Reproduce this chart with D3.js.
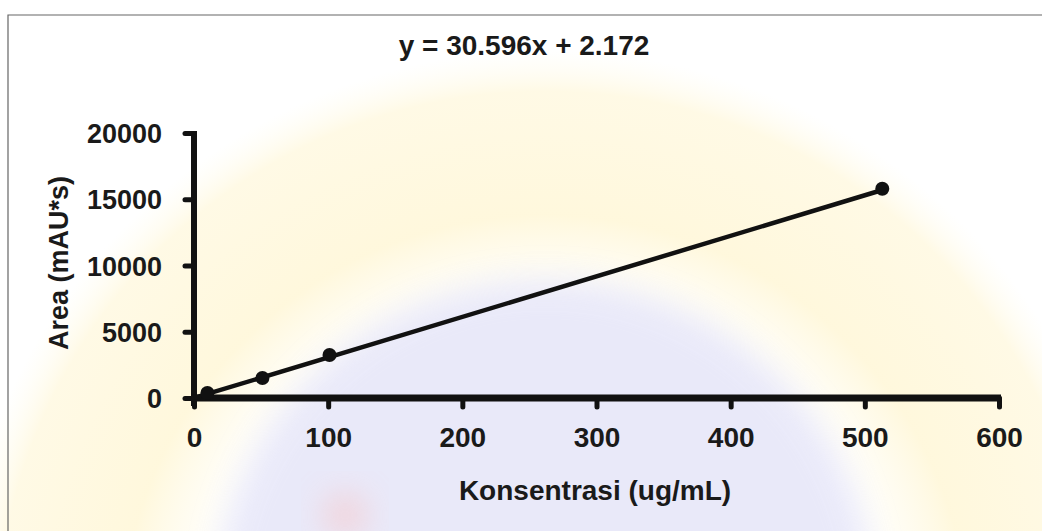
<!DOCTYPE html>
<html>
<head>
<meta charset="utf-8">
<script src="https://cdn.jsdelivr.net/npm/d3@7"></script>
<style>
  body { margin: 0; background: #fff; }
  svg { display: block; }
  text { font-family: "Liberation Sans", Arial, sans-serif; font-weight: bold; fill: #1a1a1a; }
</style>
</head>
<body>
<div id="chart"></div>
<script>
// calibration data
const konsentrasi = [10, 51, 101, 513];
const area = [377, 1509, 3245, 15789];
const xTicks = [0, 100, 200, 300, 400, 500, 600];
const yTicks = [0, 5000, 10000, 15000, 20000];
const slope = 30.596;
const intercept = 2.172;

const W = 1042, H = 531;
const svg = d3.select("#chart").append("svg")
  .attr("width", W)
  .attr("height", H);

// faint watermark behind the plot
const defs = svg.append("defs");
defs.append("filter").attr("id", "blur")
  .attr("x", "-50%").attr("y", "-50%").attr("width", "200%").attr("height", "200%")
  .append("feGaussianBlur").attr("stdDeviation", 16);
const ring = defs.append("radialGradient").attr("id", "ring")
  .attr("cx", 0.5).attr("cy", 0.5).attr("r", 0.5);
ring.append("stop").attr("offset", "0.55").attr("stop-color", "#fffbe8").attr("stop-opacity", 0);
ring.append("stop").attr("offset", "0.72").attr("stop-color", "#fff6d4").attr("stop-opacity", 0.8);
ring.append("stop").attr("offset", "0.93").attr("stop-color", "#fff6d4").attr("stop-opacity", 0.6);
ring.append("stop").attr("offset", "1").attr("stop-color", "#fffbe8").attr("stop-opacity", 0);

const wm = svg.append("g");
wm.append("circle").attr("cx", 545).attr("cy", 640).attr("r", 590).attr("fill", "url(#ring)");
wm.append("circle").attr("cx", 545).attr("cy", 610).attr("r", 330)
  .attr("fill", "#e4e4f8").attr("opacity", 0.8).attr("filter", "url(#blur)");
wm.append("ellipse").attr("cx", 345).attr("cy", 515).attr("rx", 22).attr("ry", 22)
  .attr("fill", "#f8c4c4").attr("opacity", 0.6).attr("filter", "url(#blur)");

// frame
svg.append("path")
  .attr("d", `M8,${H} V15 H${W}`)
  .attr("fill", "none")
  .attr("stroke", "#666")
  .attr("stroke-width", 1.2);

const x = d3.scaleLinear().domain([0, 600]).range([194, 999]);
const y = d3.scaleLinear().domain([0, 20000]).range([398, 133]);

// y axis
const yAxis = svg.append("g").attr("transform", `translate(${x(0)},0)`)
  .call(d3.axisLeft(y).tickValues(yTicks).tickSize(9).tickPadding(23).tickFormat(d3.format("d")));
yAxis.select(".domain").remove();
yAxis.append("line")
  .attr("x1", 0).attr("x2", 0)
  .attr("y1", y(20000) - 2).attr("y2", y(0) + 8)
  .attr("stroke", "#111").attr("stroke-width", 6);
yAxis.selectAll(".tick line").attr("stroke", "#111").attr("stroke-width", 5).attr("stroke-linecap", "round");
yAxis.selectAll(".tick text").style("font-size", "27px").attr("fill", "#1a1a1a").attr("dy", "0.36em");

// x axis
const xAxis = svg.append("g").attr("transform", `translate(0,${y(0)})`)
  .call(d3.axisBottom(x).tickValues(xTicks).tickSize(9).tickPadding(20).tickFormat(d3.format("d")));
xAxis.select(".domain").remove();
xAxis.append("line")
  .attr("x1", x(0) - 3).attr("x2", x(600) + 2)
  .attr("y1", 0).attr("y2", 0)
  .attr("stroke", "#111").attr("stroke-width", 7);
xAxis.selectAll(".tick line").attr("stroke", "#111").attr("stroke-width", 5).attr("stroke-linecap", "round");
xAxis.selectAll(".tick text").style("font-size", "28px").attr("fill", "#1a1a1a").attr("dy", "0.71em");

// trend line from the fitted equation
const line = d3.line().x(d => x(d)).y(d => y(slope * d + intercept));
svg.append("path")
  .datum([0, d3.max(konsentrasi)])
  .attr("d", line)
  .attr("fill", "none")
  .attr("stroke", "#111")
  .attr("stroke-width", 4.5);

// data points
svg.selectAll("circle.pt")
  .data(konsentrasi)
  .enter()
  .append("circle")
  .attr("class", "pt")
  .attr("cx", d => x(d))
  .attr("cy", (d, i) => y(area[i]))
  .attr("r", 7)
  .attr("fill", "#111");

// titles
svg.append("text")
  .attr("x", 524).attr("y", 55)
  .attr("text-anchor", "middle")
  .style("font-size", "28px")
  .text("y = 30.596x + 2.172");

svg.append("text")
  .attr("x", 595).attr("y", 500)
  .attr("text-anchor", "middle")
  .style("font-size", "28px")
  .text("Konsentrasi (ug/mL)");

svg.append("text")
  .attr("transform", "translate(68,263) rotate(-90)")
  .attr("text-anchor", "middle")
  .style("font-size", "27px")
  .text("Area (mAU*s)");
</script>
</body>
</html>
